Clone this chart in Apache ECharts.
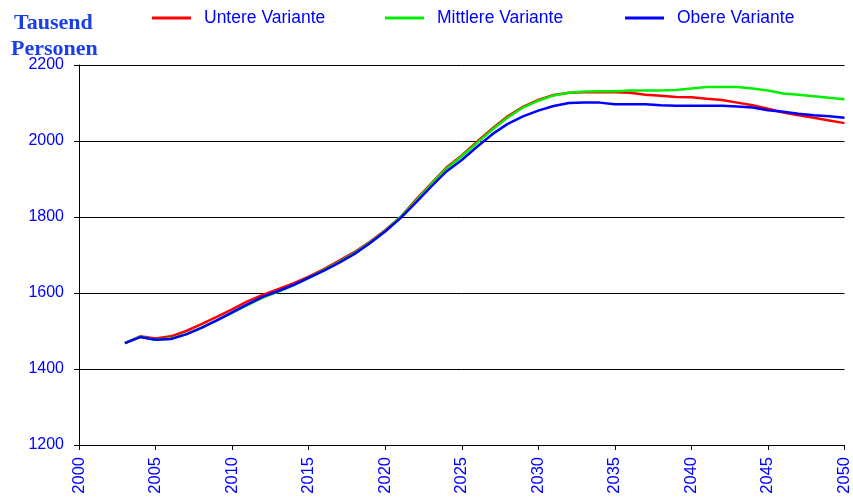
<!DOCTYPE html>
<html>
<head>
<meta charset="utf-8">
<script src="https://cdn.jsdelivr.net/npm/echarts@6/dist/echarts.min.js"></script>
<style>
  html, body { margin: 0; padding: 0; background: #fff; }
  #chart { width: 853px; height: 501px; }
</style>
</head>
<body>
<div id="chart"></div>
<script>
// Bevölkerungsvorausberechnung, Tausend Personen
const years = [2003, 2004, 2005, 2006, 2007, 2008, 2009, 2010, 2011, 2012,
  2013, 2014, 2015, 2016, 2017, 2018, 2019, 2020, 2021, 2022,
  2023, 2024, 2025, 2026, 2027, 2028, 2029, 2030, 2031, 2032,
  2033, 2034, 2035, 2036, 2037, 2038, 2039, 2040, 2041, 2042,
  2043, 2044, 2045, 2046, 2047, 2048, 2049, 2050]

const untere = [1468, 1486, 1480, 1486, 1500, 1518, 1537, 1557, 1578, 1595,
  1610, 1625, 1643, 1663, 1685, 1708, 1735, 1765, 1800, 1845,
  1888, 1930, 1962, 1998, 2033, 2065, 2090, 2108, 2121, 2127,
  2128, 2128, 2128, 2127, 2122, 2119, 2116, 2115, 2111, 2108,
  2101, 2094, 2085, 2075, 2068, 2061, 2054, 2047]

const mittlere = [1468, 1485, 1477, 1480, 1492, 1509, 1528, 1548, 1568, 1588,
  1603, 1620, 1640, 1660, 1682, 1705, 1733, 1763, 1800, 1842,
  1886, 1927, 1960, 1995, 2030, 2062, 2088, 2106, 2120, 2127,
  2130, 2131, 2131, 2133, 2133, 2133, 2134, 2138, 2142, 2142,
  2142, 2138, 2133, 2125, 2122, 2118, 2114, 2110]

const obere = [1468, 1484, 1477, 1479, 1491, 1508, 1528, 1549, 1570, 1590,
  1605, 1621, 1640, 1659, 1680, 1703, 1731, 1762, 1797, 1838,
  1880, 1920, 1950, 1985, 2018, 2045, 2065, 2080, 2092, 2100,
  2101, 2101, 2097, 2097, 2097, 2094, 2093, 2093, 2093, 2093,
  2091, 2088, 2081, 2077, 2072, 2068, 2065, 2061]

const names = ['Untere Variante', 'Mittlere Variante', 'Obere Variante']
const colors = ['#ff0000', '#00ee00', '#0000ff']

const chart = echarts.init(document.getElementById('chart'))

function pairs(vals) {
  return years.map((y, i) => [y, vals[i]])
}

function legendAt(name, left) {
  return {
    data: [name],
    left: left,
    top: 9,
    icon: 'rect',
    itemWidth: 39,
    itemHeight: 3,
    itemGap: 0,
    padding: 0,
    textStyle: {
      color: '#0000ff',
      fontFamily: 'Liberation Sans',
      fontSize: 17.5,
      padding: [0, 0, 0, 8]
    }
  }
}

const titleFont = {
  fill: '#1b3fe6',
  fontFamily: 'Liberation Serif',
  fontWeight: 'bold',
  fontSize: 22,
  textAlign: 'center',
  textVerticalAlign: 'middle'
}

chart.setOption({
  animation: false,
  color: colors,
  graphic: [
    { type: 'text', left: 14, top: 12, style: Object.assign({ text: 'Tausend' }, titleFont) },
    { type: 'text', left: 11, top: 38, style: Object.assign({ text: 'Personen' }, titleFont) }
  ],
  legend: [
    legendAt(names[0], 152),
    legendAt(names[1], 385),
    legendAt(names[2], 625)
  ],
  grid: {
    left: 79,
    right: 7,
    top: 65,
    bottom: 56
  },
  xAxis: {
    type: 'value',
    min: 2000,
    max: 2050,
    interval: 5,
    axisLine: { lineStyle: { color: '#000', width: 1 } },
    axisTick: { length: 5, lineStyle: { color: '#000' } },
    splitLine: { show: false },
    axisLabel: {
      rotate: 90,
      color: '#0000ff',
      fontFamily: 'Liberation Sans',
      fontSize: 16.5,
      margin: 12,
      formatter: v => String(v)
    }
  },
  yAxis: {
    type: 'value',
    min: 1200,
    max: 2200,
    interval: 200,
    axisLine: { show: true, lineStyle: { color: '#000', width: 1 } },
    axisTick: { show: true, length: 5, lineStyle: { color: '#000' } },
    splitLine: { lineStyle: { color: '#000', width: 1 } },
    axisLabel: {
      color: '#0000ff',
      fontFamily: 'Liberation Sans',
      fontSize: 16,
      margin: 15,
      formatter: v => String(v)
    }
  },
  series: [
    {
      name: names[0],
      type: 'line',
      data: pairs(untere),
      showSymbol: false,
      lineStyle: { width: 2.5 }
    },
    {
      name: names[1],
      type: 'line',
      data: pairs(mittlere),
      showSymbol: false,
      lineStyle: { width: 2.5 }
    },
    {
      name: names[2],
      type: 'line',
      data: pairs(obere),
      showSymbol: false,
      lineStyle: { width: 2.5 }
    }
  ]
})
</script>
</body>
</html>
